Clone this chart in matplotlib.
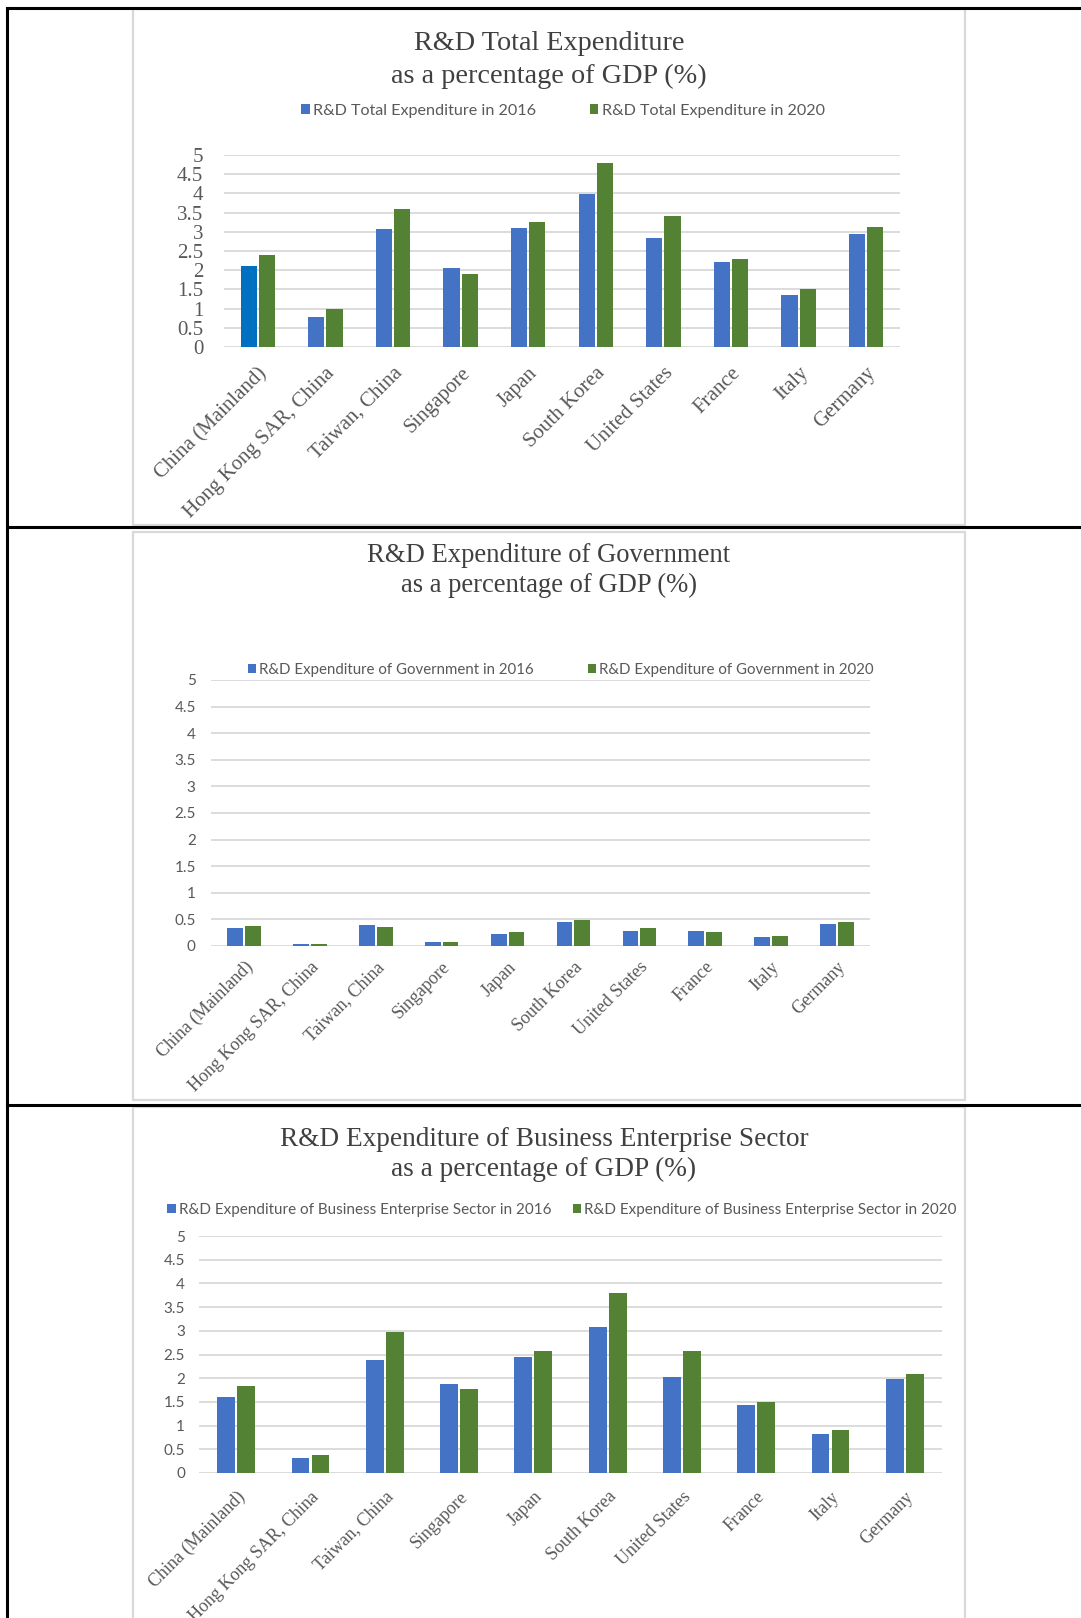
import matplotlib
matplotlib.use('Agg')
import matplotlib.pyplot as plt
from matplotlib.patches import Rectangle, Patch
from matplotlib.lines import Line2D
import numpy as np

# Datos
paises = ["China (Mainland)", "Hong Kong SAR, China", "Taiwan, China", "Singapore", "Japan",
          "South Korea", "United States", "France", "Italy", "Germany"]

total_2016 = [2.10, 0.78, 3.08, 2.06, 3.10, 3.99, 2.84, 2.22, 1.36, 2.93]
total_2020 = [2.40, 0.98, 3.60, 1.91, 3.25, 4.79, 3.41, 2.29, 1.50, 3.12]

gobierno_2016 = [0.34, 0.04, 0.40, 0.08, 0.22, 0.46, 0.28, 0.28, 0.17, 0.41]
gobierno_2020 = [0.38, 0.045, 0.35, 0.08, 0.27, 0.49, 0.33, 0.27, 0.19, 0.46]

empresas_2016 = [1.61, 0.32, 2.38, 1.88, 2.44, 3.09, 2.02, 1.43, 0.82, 1.98]
empresas_2020 = [1.84, 0.39, 2.97, 1.77, 2.57, 3.79, 2.57, 1.50, 0.91, 2.08]

valores_y = [0, 0.5, 1, 1.5, 2, 2.5, 3, 3.5, 4, 4.5, 5]
etiquetas_y = ["0", "0.5", "1", "1.5", "2", "2.5", "3", "3.5", "4", "4.5", "5"]

titulos = [
    ("R&D Total Expenditure", "as a percentage of GDP (%)"),
    ("R&D Expenditure of Government", "as a percentage of GDP (%)"),
    ("R&D Expenditure of Business Enterprise Sector", "as a percentage of GDP (%)"),
]
leyendas = [
    ("R&D Total Expenditure in 2016", "R&D Total Expenditure in 2020"),
    ("R&D Expenditure of Government in 2016", "R&D Expenditure of Government in 2020"),
    ("R&D Expenditure of Business Enterprise Sector in 2016",
     "R&D Expenditure of Business Enterprise Sector in 2020"),
]

W, H = 1081, 1618
AZUL = '#4472C4'
VERDE = '#548235'
SERIF = 'Liberation Serif'
SANS = 'Lato'
GRIS_TEXTO = '#595959'


def en_figura(x, y):
    return x / W, 1 - y / H


def caja_ejes(izq, arriba, der, abajo):
    return [izq / W, 1 - abajo / H, (der - izq) / W, (abajo - arriba) / H]


fig = plt.figure(figsize=(W / 100, H / 100), dpi=100)
fig.patch.set_facecolor('white')

# Bordes de la tabla del documento
for y in [7.5, 526.5, 1104.5]:
    fig.add_artist(Line2D([7.5 / W, 1], [1 - y / H, 1 - y / H], transform=fig.transFigure,
                          color='black', lw=2.2))
fig.add_artist(Line2D([7.5 / W, 7.5 / W], [1 - 7.5 / H, 0], transform=fig.transFigure,
                      color='black', lw=2.2))

# Marcos grises de cada grafico
for arriba, abajo in [(9, 525), (532, 1100), (1107, 1625)]:
    x0, y0 = en_figura(132.5, abajo)
    fig.add_artist(Rectangle((x0, y0), (965 - 132.5) / W, (abajo - arriba) / H,
                             transform=fig.transFigure, fill=False,
                             edgecolor='#D9D9D9', lw=1.6))

# Configuracion de cada panel (posiciones en pixeles)
paneles = [
    dict(datos=(total_2016, total_2020), ejes=(224, 155, 900, 347),
         titulo_x=549, titulo_y=(43, 76), tam_titulo=20.3,
         leyenda=(563, 111, 3.3, 11.6),
         fuente_y=(SERIF, 15, 15), fuente_x=15, pad_x=12),
    dict(datos=(gobierno_2016, gobierno_2020), ejes=(211, 680, 870, 946),
         titulo_x=549, titulo_y=(556, 585), tam_titulo=19.2,
         leyenda=(561, 670, 3.6, 10.8),
         fuente_y=(SANS, 11, 11), fuente_x=13, pad_x=9),
    dict(datos=(empresas_2016, empresas_2020), ejes=(199, 1236, 942, 1473),
         titulo_x=544, titulo_y=(1139, 1169), tam_titulo=19.6,
         leyenda=(562, 1210, 1.4, 11.0),
         fuente_y=(SANS, 11, 10), fuente_x=13, pad_x=11),
]

x = np.arange(len(paises))
ancho = 0.24

for i, panel in enumerate(paneles):
    serie_2016, serie_2020 = panel['datos']
    ax = fig.add_axes(caja_ejes(*panel['ejes']))

    colores_2016 = [AZUL] * len(paises)
    if i == 0:
        colores_2016[0] = '#0070C0'
    ax.bar(x - 0.135, serie_2016, ancho, color=colores_2016, zorder=3)
    ax.bar(x + 0.135, serie_2020, ancho, color=VERDE, zorder=3)

    ax.set_xlim(-0.5, len(paises) - 0.5)
    ax.set_ylim(0, 5)
    ax.set_yticks(valores_y)
    familia_y, tam_y, pad_y = panel['fuente_y']
    ax.set_yticklabels(etiquetas_y, fontfamily=familia_y, fontsize=tam_y, color=GRIS_TEXTO)
    ax.tick_params(axis='y', length=0, pad=pad_y)

    ax.set_xticks(x)
    ax.set_xticklabels(paises, rotation=45, ha='right', va='top', rotation_mode='anchor',
                       fontfamily=SERIF, fontsize=panel['fuente_x'], color=GRIS_TEXTO)
    ax.tick_params(axis='x', length=0, pad=panel['pad_x'])

    ax.yaxis.grid(True, color='#D9D9D9', lw=1.3, zorder=0)
    ax.set_axisbelow(True)
    for lado in ax.spines.values():
        lado.set_visible(False)
    ax.patch.set_alpha(0)

    # Titulo en dos lineas
    linea1, linea2 = titulos[i]
    for texto, y in zip((linea1, linea2), panel['titulo_y']):
        fx, fy = en_figura(panel['titulo_x'], y)
        fig.text(fx, fy, texto, ha='center', va='center', fontfamily=SERIF,
                 fontsize=panel['tam_titulo'], color='#404040')

    # Leyenda
    cx, cy, espacio, tam_leyenda = panel['leyenda']
    manejadores = [Patch(facecolor=AZUL), Patch(facecolor=VERDE)]
    fig.legend(manejadores, leyendas[i], loc='center', bbox_to_anchor=en_figura(cx, cy),
               ncol=2, frameon=False, handlelength=0.55, handleheight=0.6,
               handletextpad=0.2, columnspacing=espacio, borderpad=0,
               prop={'family': SANS, 'size': tam_leyenda}, labelcolor=GRIS_TEXTO)

fig.savefig('out.png', dpi=100, facecolor='white')
